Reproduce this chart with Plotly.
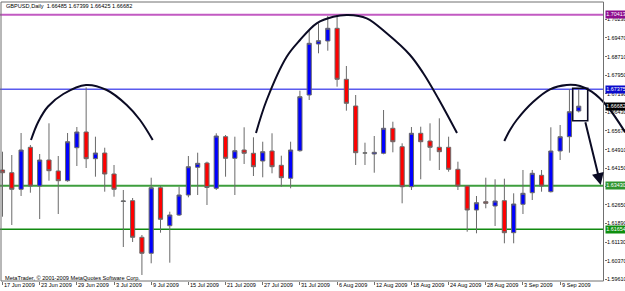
import plotly.graph_objects as go

# ---------------- data ----------------
dates = ["17 Jun 2009", "18 Jun 2009", "19 Jun 2009", "22 Jun 2009", "23 Jun 2009",
         "24 Jun 2009", "25 Jun 2009", "26 Jun 2009", "29 Jun 2009", "30 Jun 2009",
         "1 Jul 2009", "2 Jul 2009", "3 Jul 2009", "6 Jul 2009", "7 Jul 2009",
         "8 Jul 2009", "9 Jul 2009", "10 Jul 2009", "13 Jul 2009", "14 Jul 2009",
         "15 Jul 2009", "16 Jul 2009", "17 Jul 2009", "20 Jul 2009", "21 Jul 2009",
         "22 Jul 2009", "23 Jul 2009", "24 Jul 2009", "27 Jul 2009", "28 Jul 2009",
         "29 Jul 2009", "30 Jul 2009", "31 Jul 2009", "3 Aug 2009", "4 Aug 2009",
         "5 Aug 2009", "6 Aug 2009", "7 Aug 2009", "10 Aug 2009", "11 Aug 2009",
         "12 Aug 2009", "13 Aug 2009", "14 Aug 2009", "17 Aug 2009", "18 Aug 2009",
         "19 Aug 2009", "20 Aug 2009", "21 Aug 2009", "24 Aug 2009", "25 Aug 2009",
         "26 Aug 2009", "27 Aug 2009", "28 Aug 2009", "31 Aug 2009", "1 Sep 2009",
         "2 Sep 2009", "3 Sep 2009", "4 Sep 2009", "7 Sep 2009", "8 Sep 2009",
         "9 Sep 2009", "10 Sep 2009", "11 Sep 2009"]

opens = [1.64075, 1.63964, 1.63286, 1.65002, 1.63421, 1.64483, 1.64034, 1.63637, 1.64985, 1.65627,
         1.64536, 1.64769, 1.63911, 1.62788, 1.62821, 1.61326, 1.60672, 1.63352, 1.61799, 1.62236,
         1.63053, 1.64185, 1.64360, 1.63327, 1.65435, 1.64552, 1.64891, 1.64757, 1.64442, 1.64851,
         1.64266, 1.63736, 1.64863, 1.67138, 1.69221, 1.69344, 1.69862, 1.67779, 1.66689, 1.64770,
         1.64728, 1.64757, 1.65778, 1.65026, 1.63392, 1.65574, 1.65259, 1.65002, 1.65002, 1.64103,
         1.63421, 1.62441, 1.62780, 1.62604, 1.62821, 1.61513, 1.62674, 1.63147, 1.63858, 1.63188,
         1.64851, 1.65435, 1.66485]
highs = [1.64822, 1.64687, 1.65586, 1.65096, 1.64728, 1.65982, 1.64646, 1.65586, 1.65831, 1.67450,
         1.65435, 1.64985, 1.64279, 1.63258, 1.62931, 1.61420, 1.63760, 1.63421, 1.62371, 1.63392,
         1.64646, 1.64781, 1.64414, 1.65574, 1.65504, 1.65435, 1.65819, 1.65410, 1.65230, 1.65574,
         1.64659, 1.65230, 1.67314, 1.69764, 1.70067, 1.70365, 1.70413, 1.68323, 1.67138, 1.65190,
         1.65463, 1.66525, 1.66047, 1.65165, 1.65831, 1.65843, 1.65982, 1.66186, 1.65435, 1.64414,
         1.63462, 1.63013, 1.63760, 1.63695, 1.63719, 1.63123, 1.64075, 1.64075, 1.64075, 1.65819,
         1.65913, 1.67371, 1.67399]
lows = [1.62167, 1.61828, 1.63013, 1.63147, 1.62073, 1.63637, 1.62277, 1.63597, 1.64238, 1.64156,
        1.63801, 1.63188, 1.62984, 1.60929, 1.61134, 1.59786, 1.60264, 1.61513, 1.60288, 1.62196,
        1.62959, 1.63053, 1.62645, 1.63258, 1.63801, 1.63053, 1.64320, 1.63829, 1.63776, 1.63940,
        1.63392, 1.63327, 1.64822, 1.66934, 1.68841, 1.68947, 1.67477, 1.66497, 1.64279, 1.64279,
        1.63964, 1.64716, 1.64797, 1.62714, 1.63258, 1.63695, 1.64454, 1.64074, 1.64005, 1.63258,
        1.61554, 1.61489, 1.62510, 1.61787, 1.61081, 1.61081, 1.62277, 1.62849, 1.63188, 1.63155,
        1.64483, 1.64781, 1.66425]
closes = [1.63964, 1.63286, 1.64891, 1.63421, 1.64483, 1.64046, 1.63637, 1.65230, 1.65627, 1.64536,
          1.64769, 1.63911, 1.63286, 1.62808, 1.61326, 1.60672, 1.63352, 1.62061, 1.62236, 1.63053,
          1.64209, 1.64348, 1.63360, 1.65463, 1.64552, 1.64863, 1.64757, 1.64209, 1.64822, 1.64209,
          1.63760, 1.64891, 1.67069, 1.69250, 1.69356, 1.69862, 1.67779, 1.66799, 1.64781, 1.64770,
          1.64797, 1.65778, 1.65230, 1.63392, 1.65574, 1.65230, 1.65002, 1.64822, 1.64103, 1.63421,
          1.62441, 1.62739, 1.62714, 1.62808, 1.61513, 1.62686, 1.63123, 1.63940, 1.63421, 1.64851,
          1.65435, 1.66456, 1.66682]

date_ticks = ["17 Jun 2009", "23 Jun 2009", "29 Jun 2009", "3 Jul 2009", "9 Jul 2009",
              "15 Jul 2009", "21 Jul 2009", "27 Jul 2009", "31 Jul 2009", "6 Aug 2009",
              "12 Aug 2009", "18 Aug 2009", "24 Aug 2009", "28 Aug 2009", "3 Sep 2009",
              "9 Sep 2009"]

price_ticks = [1.70230, 1.69470, 1.68710, 1.67950, 1.67190, 1.66430, 1.65670, 1.64910,
               1.64150, 1.63390, 1.62650, 1.61890, 1.61130, 1.60370, 1.59610]
price_tick_text = ["1.70230", "1.69470", "1.68710", "1.67950", "1.67190", "1.66430", "1.65670",
                   "1.64910", "1.64150", "1.63390", "1.62650", "1.61890", "1.61130", "1.60370",
                   "1.59610"]

# horizontal levels and their colours
levels = [1.70413, 1.67375, 1.63430, 1.61654]
level_line_colors = ["#C25AC2", "#5A5AEE", "#3E9E3E", "#118A11"]
level_line_widths = [2, 1.5, 2, 1.5]
level_label_colors = ["#8E0E8E", "#0A0ACC", "#2F952F", "#0E8E0E"]
current_price = 1.66682

title_text = "GBPUSD,Daily  1.66485 1.67399 1.66425 1.66682"
copyright_text = "MetaTrader, © 2001-2009 MetaQuotes Software Corp."

# hand-drawn objects: anchor points in (bar index, price)
arc1_x = [4.067, 4.852, 5.896, 7.542, 9.984, 12.212, 14.364, 15.795, 17.161]
arc1_y = [1.65300, 1.66047, 1.66668, 1.67179, 1.67546, 1.67342, 1.66730, 1.66117, 1.65300]
arc2_x = [28.276, 29.427, 31.579, 33.010, 34.807, 36.593, 38.175, 40.187, 42.339,
          44.846, 46.277, 47.858, 49.903]
arc2_y = [1.65586, 1.66934, 1.68702, 1.69384, 1.70067, 1.70336, 1.70406, 1.70271, 1.69658,
          1.68772, 1.68024, 1.67015, 1.65586]
arc3_x = [54.992, 55.605, 56.326, 58.080, 59.909, 61.706, 63.137, 64.396, 66.042, 67.979]
arc3_y = [1.65259, 1.65708, 1.66117, 1.66852, 1.67371, 1.67546, 1.67506, 1.67273, 1.66689, 1.65627]
box_x = [62.352, 63.966]
box_y = [1.66088, 1.67412]
arrow_tail = [63.675, 1.66088]
arrow_tip = [65.365, 1.63462]

# ---------------- figure ----------------
W, H = 625, 291
ML, MR, MT, MB = 0, 0, 2, 10
bar_px = 9.294
first_bar_px = 2.5
x0 = 1 - first_bar_px / bar_px
x1 = x0 + (W - ML - MR) / bar_px
axis_px = 603.5
axis_paper = axis_px / W
label_px = 605.5

idx = list(range(1, len(dates) + 1))
tick_vals = [dates.index(d) + 1 for d in date_ticks]

FONT = "Liberation Sans, Arial, sans-serif"
FS = 5.6
FS_R = 5.4
ink = "#0B0B24"

fig = go.Figure()
fig.add_trace(go.Candlestick(
    x=idx, open=opens, high=highs, low=lows, close=closes,
    increasing=dict(fillcolor="#0000FF", line=dict(color="#6A6A6A", width=1)),
    decreasing=dict(fillcolor="#FF0000", line=dict(color="#6A6A6A", width=1)),
    whiskerwidth=0, hoverinfo="skip", showlegend=False,
))

for ax_, ay_ in [(arc1_x, arc1_y), (arc2_x, arc2_y), (arc3_x, arc3_y)]:
    fig.add_trace(go.Scatter(x=ax_, y=ay_, mode="lines",
                             line=dict(color=ink, width=2, shape="spline", smoothing=1.0),
                             hoverinfo="skip", showlegend=False))

shapes = []
for lv, c, w in zip(levels, level_line_colors, level_line_widths):
    shapes.append(dict(type="line", xref="paper", yref="y", x0=0, x1=axis_paper,
                       y0=lv, y1=lv, line=dict(color=c, width=w), layer="below"))
# chart frame
shapes.append(dict(type="rect", xref="paper", yref="paper", x0=1.0 / W, x1=axis_paper,
                   y0=0, y1=1, line=dict(color="#707070", width=1), layer="above"))
# selection box
shapes.append(dict(type="rect", xref="x", yref="y", x0=box_x[0], x1=box_x[1],
                   y0=box_y[0], y1=box_y[1], line=dict(color=ink, width=1.6)))

plot_h = H - MT - MB
annotations = []
annotations.append(dict(xref="paper", yref="paper", x=4.0 / W, y=1 - 4.5 / plot_h,
                        xanchor="left", yanchor="middle", text=title_text, showarrow=False,
                        font=dict(family=FONT, size=FS, color="#000000")))
annotations.append(dict(xref="paper", yref="paper", x=3.0 / W, y=3.5 / plot_h,
                        xanchor="left", yanchor="middle", text=copyright_text, showarrow=False,
                        font=dict(family=FONT, size=FS, color="#000000")))
# date labels, left-aligned at their tick like the MetaTrader time scale
for tv, tt in zip(tick_vals, date_ticks):
    annotations.append(dict(xref="x", yref="paper", x=tv, y=-4.0 / plot_h,
                            xanchor="left", yanchor="middle", xshift=-0.5,
                            text=tt, showarrow=False,
                            font=dict(family=FONT, size=FS, color="#000000")))
# price scale labels, left-aligned next to the scale line
for pv, pt in zip(price_ticks, price_tick_text):
    annotations.append(dict(xref="paper", yref="y", x=label_px / W, y=pv,
                            xanchor="left", yanchor="middle", text=pt, showarrow=False,
                            borderpad=0,
                            font=dict(family=FONT, size=FS_R, color="#000000")))
for lv, c in zip(levels + [current_price], level_label_colors + ["#000000"]):
    annotations.append(dict(xref="paper", yref="y", x=(label_px - 0.5) / W, y=lv,
                            xanchor="left", yanchor="middle", text="%.5f" % lv,
                            showarrow=False, bgcolor=c, borderpad=0.3,
                            font=dict(family=FONT, size=FS_R, color="#FFFFFF")))
annotations.append(dict(xref="x", yref="y", axref="x", ayref="y",
                        x=arrow_tip[0], y=arrow_tip[1], ax=arrow_tail[0], ay=arrow_tail[1],
                        text="", showarrow=True, arrowhead=2, arrowsize=1.2,
                        arrowwidth=2, arrowcolor=ink))

# y range from the pixel geometry of the price scale
py_per_price = 1 / 0.00040846
y_top = 1.70230 + (19.3 - MT) / py_per_price
y_bot = 1.70230 - (H - MB - 19.3) / py_per_price

fig.update_layout(
    width=W, height=H,
    margin=dict(l=ML, r=MR, t=MT, b=MB, pad=0),
    paper_bgcolor="white", plot_bgcolor="white",
    boxgap=0.36,
    shapes=shapes, annotations=annotations,
    font=dict(family=FONT, size=FS, color="#000000"),
    xaxis=dict(range=[x0, x1], domain=[0, 1], showgrid=False, zeroline=False,
               showline=False, rangeslider=dict(visible=False),
               tickmode="array", tickvals=tick_vals, ticktext=[""] * len(tick_vals),
               ticks="outside", ticklen=3, tickcolor="#707070", tickwidth=1,
               automargin=False, fixedrange=True),
    yaxis=dict(range=[y_bot, y_top], domain=[0, 1], anchor="free", position=axis_paper,
               side="right", showgrid=False, zeroline=False, showline=False,
               tickmode="array", tickvals=price_ticks, ticktext=[""] * len(price_ticks),
               ticks="outside", ticklen=2, tickcolor="#707070",
               automargin=False, fixedrange=True),
)

fig.write_html("out.html")
